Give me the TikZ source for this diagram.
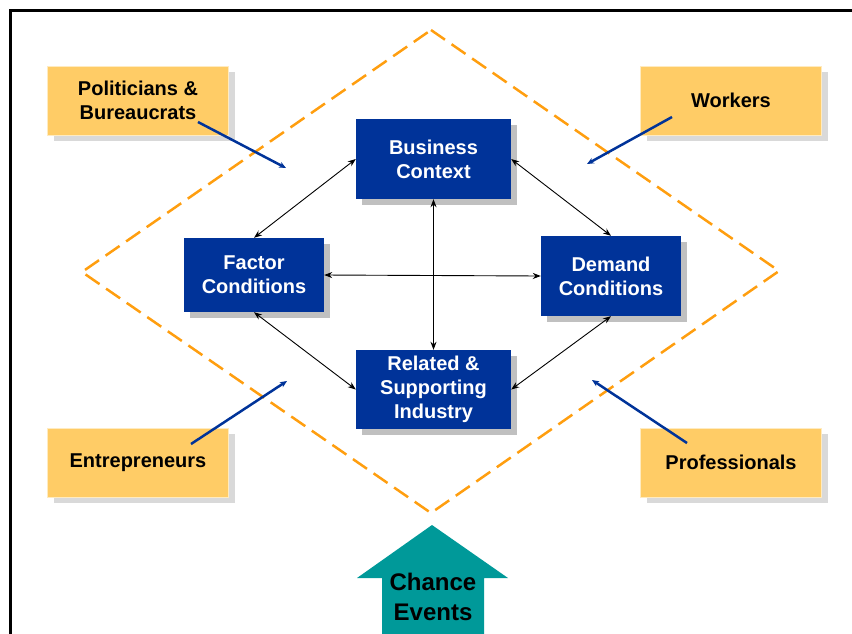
\documentclass[tikz,border=0pt]{standalone}
\usepackage{fontspec}
\setmainfont{Liberation Sans}
\usetikzlibrary{arrows.meta,shadows}
\definecolor{boxblue}{HTML}{003399}
\definecolor{boxyellow}{HTML}{FFCC66}
\definecolor{yellowedge}{HTML}{FFEBC0}
\definecolor{dashorange}{HTML}{FF9E0F}
\definecolor{teal}{HTML}{009999}
\definecolor{shadowblue}{HTML}{C0C0C0}
\definecolor{shadowyellow}{HTML}{D9D9D9}
\tikzset{
  actor/.style={draw=yellowedge, line width=1pt, fill=boxyellow, inner sep=0pt,
    minimum width=181pt, minimum height=69pt, align=center,
    font=\fontsize{20}{23.5}\selectfont\bfseries, text=black,
    drop shadow={shadow xshift=6pt, shadow yshift=-6pt, fill=shadowyellow, opacity=1}},
  factor/.style={fill=boxblue, inner sep=0pt, align=center,
    font=\fontsize{20}{24}\selectfont\bfseries, text=white,
    drop shadow={shadow xshift=6pt, shadow yshift=-6pt, fill=shadowblue, opacity=1}},
  link/.style={line width=0.9pt, {Stealth[length=8pt,width=6pt]}-{Stealth[length=8pt,width=6pt]}},
  influence/.style={line width=2.5pt, draw=boxblue, -{Stealth[length=7pt,width=6pt]}},
}
\begin{document}
\begin{tikzpicture}[x=1pt,y=-1pt]
\useasboundingbox (0,0) rectangle (852,633);
% frame
\draw[line width=3pt] (10,645) -- (10,10) -- (865,10);
% diamond
\coordinate (dt) at (431,30);
\coordinate (dr) at (779,271);
\coordinate (db) at (431,513);
\coordinate (dl) at (82,272);
\draw[dashorange, line width=2.5pt, dash pattern=on 17pt off 8pt, line join=miter]
  (dt) -- (dr) -- (db) -- (dl) -- cycle;
% actor boxes
\node[actor] (pol) at (138,100.5) {Politicians \&\\Bureaucrats};
\node[actor] (wor) at (731,100.5) {Workers};
\node[actor] (ent) at (138,462.5) {Entrepreneurs};
\node[actor] (pro) at (731,462.5) {Professionals};
% factor boxes
\node[factor, minimum width=155pt, minimum height=80pt] (bc) at (433.5,159) {Business\\Context};
\node[factor, minimum width=140pt, minimum height=74pt] (fc) at (254,275) {Factor\\Conditions};
\node[factor, minimum width=140pt, minimum height=80pt] (dc) at (611,276) {Demand\\Conditions};
\node[factor, minimum width=155pt, minimum height=79pt] (rs) at (433.5,389.5) {Related \&\\Supporting\\Industry};
% links
\draw[link] (bc.west) -- (fc.north);
\draw[link] (bc.east) -- (dc.north);
\draw[link] (fc.south) -- (rs.west);
\draw[link] (dc.south) -- (rs.east);
\draw[link] (fc.east) -- (dc.west);
\draw[link] (bc.south) -- (rs.north);
% influence arrows
\coordinate (polS) at (198,122);
\coordinate (polE) at (286,168);
\coordinate (worS) at (672,117);
\coordinate (worE) at (587,164);
\coordinate (entS) at (191,444);
\coordinate (entE) at (287,381);
\coordinate (proS) at (687,443);
\coordinate (proE) at (592,380);
\draw[influence] (polS) -- (polE);
\draw[influence] (worS) -- (worE);
\draw[influence] (entS) -- (entE);
\draw[influence] (proS) -- (proE);
% chance events arrow
\fill[teal] (432,525) -- (508,578) -- (484,578) -- (484,640) -- (382,640) -- (382,578) -- (357,578) -- cycle;
\node[align=center, font=\fontsize{24}{30}\selectfont\bfseries, text=black, inner sep=0pt] (ce) at (433,597) {Chance\\Events};
\end{tikzpicture}
\end{document}
